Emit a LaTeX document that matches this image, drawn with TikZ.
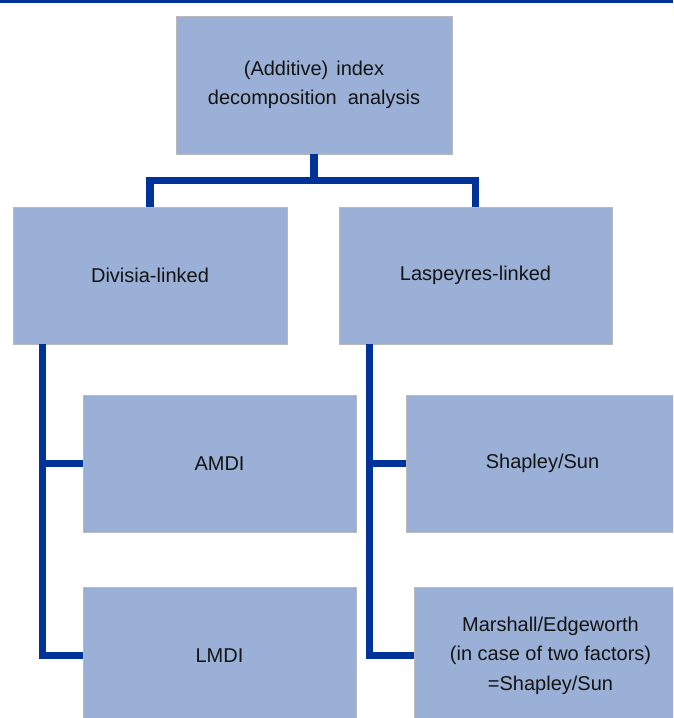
\documentclass[tikz,border=0pt]{standalone}
\usepackage{fontspec}
\setmainfont{Liberation Sans}
\usetikzlibrary{calc}
\definecolor{boxfill}{RGB}{155,176,214}
\definecolor{boxline}{RGB}{185,185,190}
\definecolor{connblue}{RGB}{0,51,153}
\definecolor{txt}{RGB}{20,20,20}
\begin{document}
\begin{tikzpicture}[x=1pt,y=-1pt,
  box/.style={draw=boxline, line width=0.9pt, fill=boxfill, inner sep=0pt,
    text=txt, align=center, font=\fontsize{20}{29.5}\selectfont},
  conn/.style={draw=connblue, line width=7.5pt}]
\useasboundingbox (0,0) rectangle (673,718);
\clip (0,0) rectangle (673,718);
% top rule
\fill[connblue] (0,0) rectangle (673,3.2);
% boxes
\node[box, minimum width=276pt, minimum height=138pt] (top) at (314,85)
  {\fontsize{20}{19}\selectfont (Additive)\hspace{8pt}index\\decomposition\hspace{11pt}analysis};
\node[box, minimum width=274pt, minimum height=137pt] (div) at (150,275.5) {Divisia-linked};
\node[box, minimum width=273pt, minimum height=137pt] (las) at (475.5,275.5) {Laspeyres-linked};
\node[box, minimum width=273pt, minimum height=137pt] (amdi) at (219.5,463.5) {AMDI};
\node[box, minimum width=273pt, minimum height=137pt] (shap) at (542.5,463.5) {Shapley/Sun};
\node[box, minimum width=273pt, minimum height=137pt] (lmdi) at (219.5,655.5) {LMDI};
\node[box, minimum width=273pt, minimum height=137pt] (mars) at (550.5,655.5)
  {Marshall/Edgeworth\\(in case of two factors)\\=Shapley/Sun};
% connectors
\coordinate (j) at ($(top.south)+(0,26)$);
\draw[conn] (top.south) -- (j);
\draw[conn] (j) -| (div.north);
\draw[conn] (j) -| (las.north);
\coordinate (lv) at ($(div.south west)+(30,0)$);
\draw[conn] (lv) |- (lmdi.west);
\draw[conn] (amdi.west) -- (amdi.west -| lv);
\coordinate (rv) at ($(las.south west)+(31,0)$);
\draw[conn] (rv) |- (mars.west);
\draw[conn] (shap.west) -- (shap.west -| rv);
\end{tikzpicture}
\end{document}
